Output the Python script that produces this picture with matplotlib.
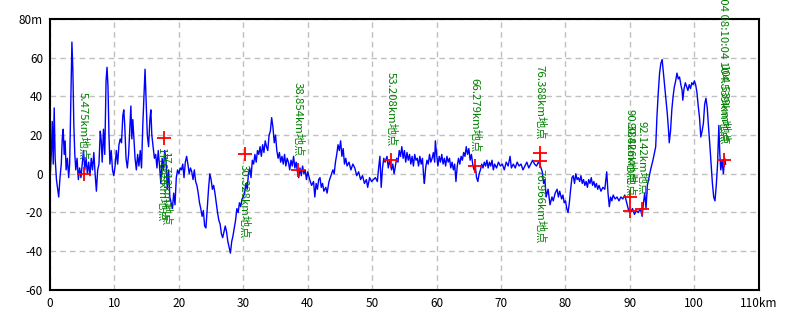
import matplotlib
matplotlib.use('Agg')
import matplotlib.pyplot as plt

plt.rcParams['font.family'] = ['Noto Sans CJK JP', 'DejaVu Sans']

# elevation profile (km, m)
dist = [0.0, 0.2, 0.35, 0.5, 0.65, 0.8, 1.0, 1.2, 1.35, 1.55, 1.75, 1.9, 2.05, 2.2, 2.35, 2.5, 2.7, 2.9,
        3.05, 3.25, 3.4, 3.55, 3.7, 3.85, 4.0, 4.2, 4.4, 4.6, 4.8, 5.0, 5.2, 5.4, 5.6, 5.8, 6.0, 6.2,
        6.4, 6.6, 6.8, 7.0, 7.2, 7.4, 7.6, 7.8, 7.95, 8.1, 8.3, 8.5, 8.7, 8.85, 9.0, 9.15, 9.3, 9.5,
        9.7, 9.9, 10.1, 10.3, 10.5, 10.7, 10.9, 11.1, 11.3, 11.45, 11.6, 11.8, 12.0, 12.2, 12.4, 12.55,
        12.7, 12.85, 13.0, 13.2, 13.4, 13.6, 13.8, 14.0, 14.2, 14.4, 14.6, 14.75, 14.9, 15.1, 15.3,
        15.5, 15.65, 15.8, 16.0, 16.2, 16.4, 16.6, 16.8, 17.0, 17.2, 17.4, 17.6, 17.8, 18.0, 18.2,
        18.4, 18.6, 18.8, 19.0, 19.2, 19.4, 19.6, 19.8, 20.0, 20.2, 20.4, 20.6, 20.8, 21.0, 21.2,
        21.4, 21.6, 21.8, 22.0, 22.2, 22.4, 22.6, 22.8, 23.0, 23.2, 23.4, 23.6, 23.8, 24.0, 24.2,
        24.4, 24.6, 24.8, 25.0, 25.2, 25.4, 25.6, 25.8, 26.0, 26.2, 26.4, 26.6, 26.8, 27.0, 27.2,
        27.4, 27.6, 27.8, 28.0, 28.2, 28.4, 28.6, 28.8, 29.0, 29.2, 29.4, 29.6, 29.8, 30.0, 30.2,
        30.4, 30.6, 30.8, 31.0, 31.2, 31.4, 31.6, 31.8, 32.0, 32.2, 32.4, 32.6, 32.8, 33.0, 33.2,
        33.4, 33.6, 33.8, 34.0, 34.2, 34.4, 34.6, 34.8, 35.0, 35.2, 35.4, 35.6, 35.8, 36.0, 36.2,
        36.4, 36.6, 36.8, 37.0, 37.2, 37.4, 37.6, 37.8, 38.0, 38.2, 38.4, 38.6, 38.8, 39.0, 39.2,
        39.4, 39.6, 39.8, 40.0, 40.3, 40.6, 40.9, 41.1, 41.3, 41.5, 41.7, 41.9, 42.1, 42.3, 42.5,
        42.8, 43.0, 43.3, 43.6, 43.9, 44.1, 44.3, 44.5, 44.7, 44.9, 45.1, 45.3, 45.5, 45.7, 45.9,
        46.1, 46.4, 46.7, 47.0, 47.3, 47.6, 47.9, 48.2, 48.5, 48.8, 49.1, 49.3, 49.6, 49.9, 50.2,
        50.5, 50.8, 51.0, 51.2, 51.4, 51.6, 51.8, 52.0, 52.3, 52.5, 52.7, 53.0, 53.2, 53.4, 53.6,
        53.8, 54.0, 54.2, 54.4, 54.6, 54.8, 55.0, 55.2, 55.4, 55.6, 55.8, 56.0, 56.2, 56.4, 56.6,
        56.8, 57.0, 57.2, 57.4, 57.6, 57.8, 58.0, 58.1, 58.3, 58.5, 58.7, 58.9, 59.1, 59.3, 59.5,
        59.7, 59.8, 60.0, 60.2, 60.4, 60.6, 60.8, 61.0, 61.2, 61.4, 61.6, 61.8, 62.0, 62.2, 62.4,
        62.6, 62.8, 63.0, 63.2, 63.4, 63.6, 63.8, 64.0, 64.2, 64.4, 64.6, 64.8, 65.0, 65.2, 65.4,
        65.6, 65.8, 66.0, 66.2, 66.4, 66.6, 66.8, 67.0, 67.2, 67.4, 67.6, 67.8, 68.0, 68.2, 68.4,
        68.6, 68.8, 69.0, 69.3, 69.6, 69.9, 70.2, 70.5, 70.8, 71.1, 71.4, 71.6, 71.9, 72.2, 72.5,
        72.8, 73.1, 73.4, 73.7, 74.0, 74.3, 74.6, 74.9, 75.2, 75.5, 75.8, 76.0, 76.2, 76.4, 76.6,
        76.8, 77.0, 77.3, 77.6, 77.9, 78.1, 78.4, 78.7, 78.9, 79.1, 79.4, 79.6, 79.8, 80.0, 80.2,
        80.4, 80.6, 80.8, 81.0, 81.2, 81.4, 81.6, 81.8, 82.0, 82.2, 82.4, 82.6, 82.8, 83.0, 83.2,
        83.4, 83.6, 83.8, 84.0, 84.2, 84.4, 84.6, 84.8, 85.0, 85.2, 85.5, 85.8, 86.1, 86.4, 86.6,
        86.8, 87.0, 87.2, 87.4, 87.7, 88.0, 88.3, 88.6, 88.9, 89.2, 89.5, 89.8, 90.1, 90.4, 90.7,
        91.0, 91.3, 91.6, 91.9, 92.1, 92.3, 92.5, 92.7, 92.9, 93.2, 93.5, 93.7, 94.0, 94.2, 94.4,
        94.6, 94.8, 95.0, 95.2, 95.4, 95.6, 95.8, 96.0, 96.1, 96.3, 96.5, 96.7, 96.9, 97.1, 97.3,
        97.5, 97.7, 97.9, 98.1, 98.2, 98.4, 98.6, 98.8, 99.0, 99.2, 99.4, 99.6, 99.8, 100.0, 100.2,
        100.4, 100.6, 100.8, 101.0, 101.2, 101.4, 101.6, 101.8, 102.0, 102.2, 102.4, 102.6, 102.8,
        103.0, 103.2, 103.4, 103.6, 103.8, 103.95, 104.1, 104.3, 104.5, 104.7, 104.85]
elev = [-3, 10, 27, 5, 34, 8, -3, -8, -12, -2, 5, 18, 23, 10, 17, 2, 8, -2,
        5, 41, 68, 53, 25, 10, 2, 8, -3, 3, -2, 5, 12, 2, 8, 0, 6, -1,
        8, 2, 11, 0, -9, 2, 5, 22, 17, 6, 23, 10, 48, 55, 45, 20, 5, 12,
        2, -1, 4, 12, 5, 15, 18, 16, 30, 33, 25, 8, 3, 10, 25, 35,
        18, 28, 19, 8, 2, 10, 4, 12, 3, 25, 41, 54, 40, 20, 14,
        28, 33, 20, 14, 8, 10, 3, 12, 4, -5, 8, 2, 12, 7, -8,
        2, -12, -15, -18, -10, -16, -2, 2, 0, 3, 2, 5, -2, 6, 9,
        5, 0, 3, 1, -3, 2, -4, -6, -10, -15, -18, -22, -19, -27, -28,
        -18, -8, 0, -3, -8, -6, -10, -15, -20, -24, -26, -31, -33, -30, -27,
        -30, -35, -38, -41, -35, -32, -28, -24, -18, -20, -15, -17, -13, -12, -10,
        -5, -8, 0, 3, -2, 7, 5, 10, 6, 12, 10, 14, 9, 15, 11,
        17, 14, 12, 20, 22, 29, 24, 16, 20, 12, 8, 11, 6, 9, 5,
        10, 4, 8, 6, 2, 7, 4, 9, 3, 6, 1, -2, 3, -1, 4,
        0, 2, -3, 1, -3, -6, -4, -12, -5, -8, -3, -2, -7, -5, -9,
        -7, -10, -4, -1, 2, 0, 6, 10, 15, 12, 17, 9, 13, 5, 8,
        4, 6, 2, 5, 3, -1, 1, -3, -1, -5, -3, -7, -2, -4, -3,
        -2, -4, 3, 9, -7, 3, 8, 6, 9, 3, 7, 2, 5, 0, 4,
        8, 6, 12, 9, 14, 8, 12, 6, 11, 7, 10, 5, 9, 4, 10,
        7, 8, 4, 9, 5, 8, -2, -5, 3, 7, 5, 10, 6, 8, 11,
        6, 17, 10, 4, 9, 6, 10, 5, 8, 4, 9, 6, 8, 3, 6,
        2, 5, -4, 4, 8, 5, 9, 7, 11, 9, 14, 10, 13, 7, 10,
        5, 2, 4, -2, -4, 0, 2, 5, 3, 6, 4, 7, 3, 6, 4,
        7, 2, 5, 3, 6, 4, 5, 2, 6, 4, 9, 3, 5, 3, 6,
        4, 5, 2, 4, 6, 3, 5, 7, 5, 4, 6, 5, 3, 1, -5,
        -3, -12, -8, -16, -12, -14, -10, -8, -12, -9, -13, -11, -15, -14, -18,
        -20, -15, -8, -2, -1, -5, 0, -3, -2, -4, -1, -5, -3, -6, -4,
        -7, -3, -5, -2, -6, -4, -7, -5, -8, -6, -9, -7, -8, 1, -10,
        -17, -12, -14, -11, -13, -12, -14, -12, -13, -11, -15, -19, -20, -18, -21,
        -19, -20, -18, -22, -15, -10, -18, -6, -3, 2, 6, 9, 14, 30, 42,
        52, 57, 59, 52, 45, 38, 31, 22, 16, 22, 33, 40, 45, 48, 52,
        49, 50, 46, 43, 38, 44, 47, 45, 43, 46, 44, 47, 46, 48, 46,
        42, 35, 29, 19, 22, 26, 36, 39, 34, 24, 15, 5, -5,
        -12, -14, -6, 5, 25, 10, 2, 7, 0, 8, 5]

# red crosses
mark_km = [5.2, 17.7, 30.2, 38.5, 52.95, 66.0, 76.1, 76.1, 90.0, 90.0, 91.9, 104.6]
mark_m = [0, 18.5, 10, 1.7, 7, 4, 10.5, 6.4, -12.2, -19.1, -18.2, 7.2]

# point labels: text, cross index, placed above (1) or below (0)
label_text = ['5.475km地点', '17.648km地点', '17.712km地点', '30.328km地点', '38.854km地点',
              '53.208km地点', '66.279km地点', '76.388km地点', '76.966km地点', '90.384km地点',
              '90.826km地点', '92.142km地点', '104.539km地点', '2015-04 08:10:04 104.539km地点']
label_mark = [0, 1, 1, 2, 3, 4, 5, 6, 7, 8, 9, 10, 11, 11]
label_up = [1, 0, 0, 0, 1, 1, 1, 1, 0, 1, 1, 1, 1, 1]
label_dx = [0, -2, 2, 0, 0, 0, 0, 0, 0, 0, 0, 0, 0, 0]
label_dy = [14, 10, 14, 10, 14, 14, 14, 14, 8, 14, 14, 14, 14, 18]

xticks = [0, 10, 20, 30, 40, 50, 60, 70, 80, 90, 100, 110]
xtick_labels = ['0', '10', '20', '30', '40', '50', '60', '70', '80', '90', '100', '110km']
yticks = [-60, -40, -20, 0, 20, 40, 60, 80]
ytick_labels = ['-60', '-40', '-20', '0', '20', '40', '60', '80m']

fig = plt.figure(figsize=(8, 3.2), dpi=100)
ax = fig.add_axes([0.0625, 0.094, 0.886, 0.847])

ax.plot(dist, elev, color='#0000ff', lw=1)
ax.plot(mark_km, mark_m, '+', color='#ff0000', ms=10, mew=1.3, zorder=4)

for i, t in enumerate(label_text):
    k = label_mark[i]
    if label_up[i]:
        off = (label_dx[i], label_dy[i])
        va = 'bottom'
    else:
        off = (label_dx[i], -label_dy[i])
        va = 'top'
    ax.annotate(t, (mark_km[k], mark_m[k]), xytext=off, textcoords='offset pixels',
                rotation=270, ha='center', va=va, color='#008000', fontsize=8.2,
                annotation_clip=False, zorder=5)

ax.set_xlim(0, 110)
ax.set_ylim(-60, 80)
ax.set_xticks(xticks)
ax.set_xticklabels(xtick_labels)
ax.set_yticks(yticks)
ax.set_yticklabels(ytick_labels)
ax.tick_params(length=0, labelsize=8.5, pad=5, colors='black')
ax.grid(True, color='#c0c0c0', ls=(0, (4, 3)), lw=1)
ax.set_axisbelow(True)
for s in ax.spines.values():
    s.set_color('black')
    s.set_linewidth(1.5)

fig.savefig('out.png', dpi=100)
